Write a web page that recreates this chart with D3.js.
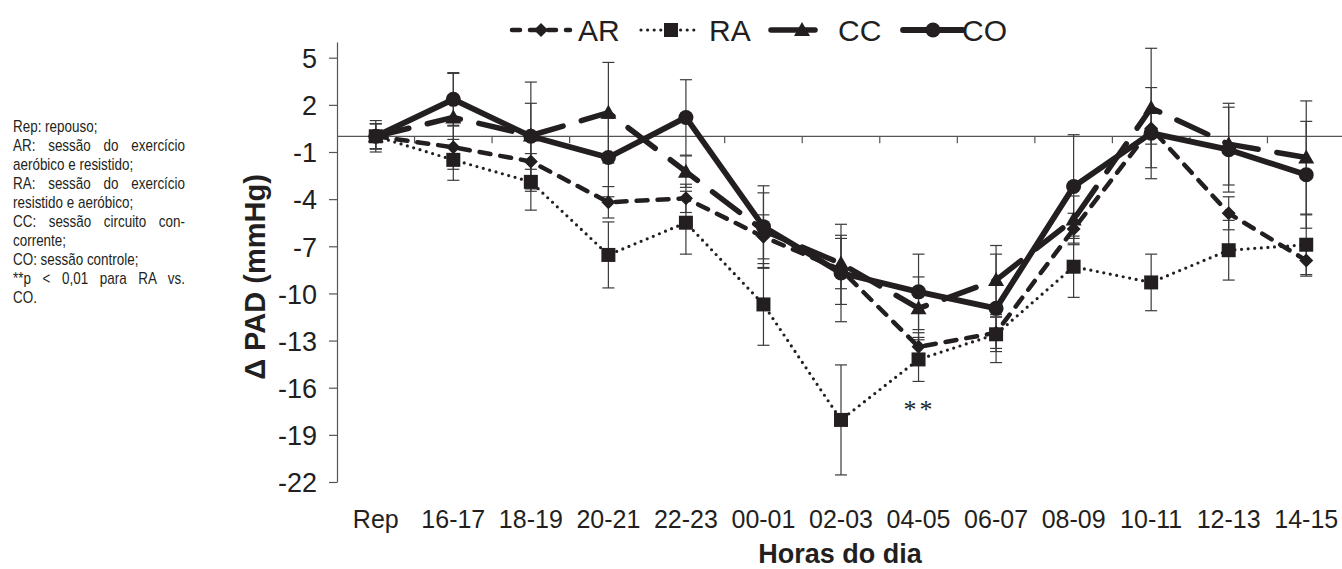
<!DOCTYPE html>
<html>
<head>
<meta charset="utf-8">
<script src="https://cdn.jsdelivr.net/npm/d3@7"></script>
<style>
  html, body { margin: 0; padding: 0; background: #fff; }
  svg { display: block; }
  text { fill: #231f20; }
</style>
</head>
<body>
<svg id="chart" width="1342" height="569"></svg>
<script>
// ---------------- DATA ----------------
const categories = ["Rep","16-17","18-19","20-21","22-23","00-01","02-03","04-05","06-07","08-09","10-11","12-13","14-15"];

const seriesNames = ["AR", "RA", "CC", "CO"];

const arValues = [0, -0.7, -1.6, -4.2, -3.95, -6.4, -8.5, -13.4, -12.5, -5.9, 0.5, -4.9, -7.9];
const arErrors = [0.8, 1.4, 1.9, 1.0, 0.9, 1.4, 2.2, 0.9, 1.0, 1.0, 1.0, 1.05, 1.0];

const raValues = [0, -1.5, -2.9, -7.55, -5.5, -10.7, -18.05, -14.2, -12.6, -8.3, -9.3, -7.25, -6.9];
const raErrors = [0.8, 1.3, 1.8, 2.1, 2.0, 2.6, 3.5, 1.4, 1.1, 1.95, 1.8, 1.9, 1.9];

const ccValues = [0, 1.2, 0.05, 1.5, -2.25, -6.0, -8.1, -10.95, -9.15, -5.3, 1.8, -0.5, -1.35];
const ccErrors = [0.8, 2.8, 3.4, 3.2, 1.0, 2.4, 1.6, 2.0, 2.2, 1.5, 3.8, 2.6, 3.6];

const coValues = [0, 2.35, 0, -1.35, 1.2, -5.75, -8.7, -9.9, -10.95, -3.2, 0.2, -0.85, -2.45];
const coErrors = [1.0, 1.7, 2.1, 2.5, 2.4, 2.6, 3.1, 2.4, 3.45, 3.3, 2.9, 2.7, 3.4];

const yTickValues = [5, 2, -1, -4, -7, -10, -13, -16, -19, -22];

const notesLines = [
  {t: "Rep: repouso;", j: false},
  {t: "AR: sessão do exercício", j: true},
  {t: "aeróbico e resistido;", j: false},
  {t: "RA: sessão do exercício", j: true},
  {t: "resistido e aeróbico;", j: false},
  {t: "CC: sessão circuito con-", j: true},
  {t: "corrente;", j: false},
  {t: "CO: sessão controle;", j: false},
  {t: "**p < 0,01 para RA vs.", j: true},
  {t: "CO.", j: false}
];

const xTitle = "Horas do dia";
const yTitle = "Δ PAD (mmHg)";
const sigLabel = "**";
const sigCategory = "04-05";
const sigValue = -17.9;

// ---------------- LAYOUT ----------------
const svg = d3.select("#chart");
const ink = "#231f20";
const font = "'Liberation Sans', Arial, Helvetica, sans-serif";

const plotL = 337, plotR = 1345, plotT = 42, plotB = 482;

const x = d3.scalePoint().domain(categories).range([plotL, plotR]).padding(0.5);
const y = d3.scaleLinear().domain([-22, 6]).range([plotB, plotT]);
const step = x.step();

const styles = {
  AR: {values: arValues, errors: arErrors, width: 4.5, dash: "11,10", cap: "round", marker: "diamond"},
  RA: {values: raValues, errors: raErrors, width: 3.2, dash: "0,6.6", cap: "round", marker: "square"},
  CC: {values: ccValues, errors: ccErrors, width: 5.5, dash: "34,19", cap: "round", marker: "triangle"},
  CO: {values: coValues, errors: coErrors, width: 5.8, dash: null, cap: "round", marker: "circle"}
};

function drawMarker(g, type, cx, cy) {
  if (type === "circle") {
    g.append("circle").attr("cx", cx).attr("cy", cy).attr("r", 7.5).attr("fill", ink);
  } else if (type === "square") {
    g.append("rect").attr("x", cx - 7).attr("y", cy - 7).attr("width", 14).attr("height", 14).attr("fill", ink);
  } else if (type === "diamond") {
    const s = 7;
    g.append("path").attr("d", `M${cx},${cy - s}L${cx + s},${cy}L${cx},${cy + s}L${cx - s},${cy}Z`).attr("fill", ink);
  } else if (type === "triangle") {
    g.append("path").attr("d", `M${cx},${cy - 8}L${cx + 8},${cy + 6}L${cx - 8},${cy + 6}Z`).attr("fill", ink);
  }
}

// ---------------- Y AXIS ----------------
const yAxis = d3.axisLeft(y).tickValues(yTickValues).tickSize(8).tickSizeOuter(0).tickPadding(12)
  .tickFormat(d => String(d));
const yg = svg.append("g").attr("transform", `translate(${plotL},0)`).call(yAxis);
yg.select(".domain").attr("stroke", "#555").attr("stroke-width", 1.2);
yg.selectAll(".tick line").attr("stroke", "#555").attr("stroke-width", 1.2);
yg.selectAll(".tick text").attr("font-family", font).attr("font-size", 27).attr("fill", ink).attr("dy", "0.36em");

// ---------------- X AXIS (at zero) ----------------
const zeroY = y(0);
svg.append("line").attr("x1", plotL).attr("x2", plotR).attr("y1", zeroY).attr("y2", zeroY)
  .attr("stroke", "#555").attr("stroke-width", 1.2);
svg.append("g").selectAll("line").data(categories.slice(1)).join("line")
  .attr("x1", d => x(d) - step / 2).attr("x2", d => x(d) - step / 2)
  .attr("y1", zeroY).attr("y2", zeroY + 7)
  .attr("stroke", "#555").attr("stroke-width", 1.2);

// category labels at the bottom
svg.append("g").selectAll("text").data(categories).join("text")
  .attr("x", d => x(d)).attr("y", 528)
  .attr("text-anchor", "middle")
  .attr("font-family", font).attr("font-size", 25)
  .text(d => d);

// axis titles
svg.append("text").attr("x", (plotL + plotR) / 2 - 1).attr("y", 563)
  .attr("text-anchor", "middle").attr("font-family", font).attr("font-weight", "bold").attr("font-size", 27)
  .text(xTitle);
svg.append("text").attr("transform", "translate(265,277) rotate(-90)")
  .attr("text-anchor", "middle").attr("font-family", font).attr("font-weight", "bold").attr("font-size", 29)
  .text(yTitle);

// ---------------- ERROR BARS ----------------
const errG = svg.append("g");
seriesNames.forEach(name => {
  const s = styles[name];
  categories.forEach((c, i) => {
    const cx = x(c), v = s.values[i], e = s.errors[i];
    const yt = y(v + e), yb = y(v - e);
    errG.append("line").attr("x1", cx).attr("x2", cx).attr("y1", yt).attr("y2", yb)
      .attr("stroke", "#3a3a3a").attr("stroke-width", 1.2);
    [yt, yb].forEach(yy => errG.append("line").attr("x1", cx - 6).attr("x2", cx + 6)
      .attr("y1", yy).attr("y2", yy).attr("stroke", "#3a3a3a").attr("stroke-width", 1.2));
  });
});

// ---------------- LINES & MARKERS ----------------
const line = d3.line().x((d, i) => x(categories[i])).y(d => y(d));
seriesNames.forEach(name => {
  const s = styles[name];
  const g = svg.append("g");
  g.append("path").attr("d", line(s.values)).attr("fill", "none").attr("stroke", ink)
    .attr("stroke-width", s.width).attr("stroke-linecap", s.cap).attr("stroke-linejoin", "round")
    .attr("stroke-dasharray", s.dash);
  s.values.forEach((v, i) => drawMarker(g, s.marker, x(categories[i]), y(v)));
});

// significance marker
svg.append("text").attr("x", x(sigCategory) + 1).attr("y", y(sigValue))
  .attr("text-anchor", "middle").attr("font-family", "'Liberation Serif', 'Times New Roman', serif")
  .attr("font-size", 26).attr("letter-spacing", 3).text(sigLabel);

// ---------------- LEGEND ----------------
const legendItems = [
  {name: "AR", x1: 512, x2: 570, mx: 541, tx: 578},
  {name: "RA", x1: 641, x2: 698, mx: 671, tx: 709},
  {name: "CC", x1: 771, x2: 815, mx: 802, tx: 838},
  {name: "CO", x1: 903, x2: 963, mx: 933, tx: 962}
];
const legY = 30;
const lg = svg.append("g");
legendItems.forEach(it => {
  const s = styles[it.name];
  let dash = s.dash;
  if (it.name === "AR") dash = "8,10";
  if (it.name === "CC") dash = null;
  lg.append("line").attr("x1", it.x1).attr("x2", it.x2).attr("y1", legY).attr("y2", legY)
    .attr("stroke", ink).attr("stroke-width", s.width).attr("stroke-linecap", "round")
    .attr("stroke-dasharray", dash);
  drawMarker(lg, s.marker, it.mx, legY);
  lg.append("text").attr("x", it.tx).attr("y", legY + 11).attr("font-family", font)
    .attr("font-size", 30).text(it.name);
});

// ---------------- NOTES ----------------
const noteScale = 0.84;
const noteWidth = 172;
const ng = svg.append("g").attr("transform", `translate(13,0) scale(${noteScale},1)`);
notesLines.forEach((ln, i) => {
  const t = ng.append("text").attr("x", 0).attr("y", 132 + i * 19)
    .attr("font-family", font)
    .attr("font-size", 16).text(ln.t);
  if (ln.j) {
    const natural = t.node().getComputedTextLength();
    const spaces = (ln.t.match(/ /g) || []).length;
    const extra = noteWidth / noteScale - natural;
    if (spaces > 0 && extra > 0) t.attr("word-spacing", extra / spaces);
  }
});
</script>
</body>
</html>
